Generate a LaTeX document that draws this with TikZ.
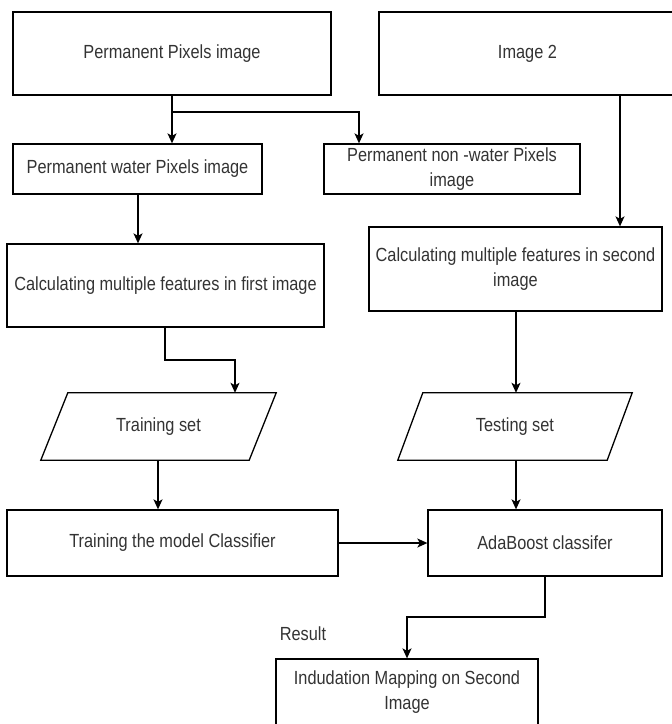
\documentclass[tikz,border=0pt]{standalone}
\usepackage{fontspec}
\setmainfont{Liberation Sans}[FakeStretch=0.86]
\usetikzlibrary{arrows.meta,calc}
\begin{document}
\begin{tikzpicture}[x=1pt,y=-1pt,
  box/.style={draw=black, line width=1.3pt, inner sep=0pt, align=center, text=black!80,
    font=\fontsize{19}{25}\selectfont},
  ghost/.style={inner sep=0pt, align=center, text=black!80, font=\fontsize{19}{25}\selectfont},
  conn/.style={draw=black, line width=1.3pt},
  arr/.style={conn, -{Stealth[length=10pt,width=9pt,inset=2.5pt]}}
]
\useasboundingbox (0,0) rectangle (672,724);
\clip (0,0) rectangle (672,724);

% boxes
\node[box, minimum width=318pt, minimum height=83pt] (b1) at (172,53.5) {Permanent Pixels image};
\node[box, minimum width=297pt, minimum height=83pt] (b2) at (527.5,53.5) {Image 2};
\node[box, minimum width=249pt, minimum height=50pt] (b3) at (137.5,169) {Permanent water Pixels image};
\node[box, minimum width=256pt, minimum height=50pt] (b4) at (452,169) {Permanent non -water Pixels\\image};
\node[box, minimum width=317pt, minimum height=83pt] (b5) at (165.5,285.5) {Calculating multiple features in first image};
\node[box, minimum width=293pt, minimum height=84pt] (b6) at (515.5,269) {Calculating multiple features in second\\image};

% parallelograms
\node[ghost, minimum width=235pt, minimum height=67pt] (ts) at (158.5,426.5) {Training set};
\draw[conn] ($(ts.north west)+(27,0)$) -- (ts.north east) -- ($(ts.south east)-(27,0)$) -- (ts.south west) -- cycle;
\node[ghost, minimum width=234pt, minimum height=67pt] (tt) at (515,426.5) {Testing set};
\draw[conn] ($(tt.north west)+(25,0)$) -- (tt.north east) -- ($(tt.south east)-(25,0)$) -- (tt.south west) -- cycle;

\node[box, minimum width=331pt, minimum height=66pt] (b9) at (172.5,543) {Training the model Classifier};
\node[box, minimum width=234pt, minimum height=66pt] (b10) at (545,543) {AdaBoost classifer};
\node[box, minimum width=262pt, minimum height=67pt] (b11) at (407,692.5) {Indudation Mapping on Second\\Image};
\node[ghost] (res) at (303,634) {Result};

% connectors
\coordinate (j1) at (172,112);
\coordinate (j2) at (359,112);
\draw[conn] (b1.south -| j1) -- (j1);
\draw[arr] (j1) -- (b3.north -| j1);
\draw[arr] (j1) -- (j2) -- (b4.north -| j2);

\coordinate (c2) at (620,0);
\draw[arr] (b2.south -| c2) -- (b6.north -| c2);

\coordinate (c3) at (138,0);
\draw[arr] (b3.south -| c3) -- (b5.north -| c3);

\coordinate (k1) at (165,360);
\coordinate (k2) at (235,360);
\draw[arr] (b5.south -| k1) -- (k1) -- (k2) -- (ts.north -| k2);

\coordinate (c5) at (516,0);
\draw[arr] (b6.south -| c5) -- (tt.north -| c5);
\draw[arr] (tt.south -| c5) -- (b10.north -| c5);

\coordinate (c6) at (158,0);
\draw[arr] (ts.south -| c6) -- (b9.north -| c6);

\draw[arr] (b9.east) -- (b10.west);

\coordinate (m1) at (545,617);
\coordinate (m2) at (407,617);
\draw[arr] (b10.south -| m1) -- (m1) -- (m2) -- (b11.north -| m2);
\end{tikzpicture}
\end{document}
